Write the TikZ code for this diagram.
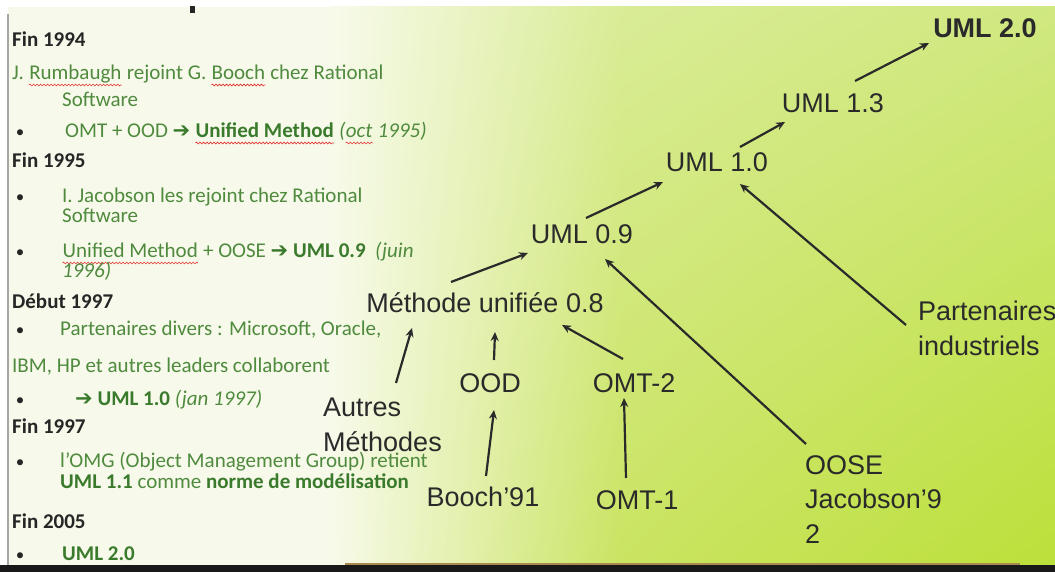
\documentclass[tikz,border=0pt]{standalone}
\usepackage{fontspec}
\setmainfont{Carlito}
\newfontfamily\diagfont{Liberation Sans}
\newfontfamily\symfont{DejaVu Sans}
\usetikzlibrary{arrows.meta,shadings,decorations.pathmorphing}

\definecolor{slidecream}{HTML}{F7FAEA}
\definecolor{greentop}{HTML}{D9EC96}
\definecolor{greenmid}{HTML}{CAE462}
\definecolor{greentopR}{HTML}{D0E880}
\definecolor{greenbot}{HTML}{BCE03A}
\definecolor{txtgreen}{HTML}{4F8A3E}
\definecolor{boldgreen}{HTML}{3A7A2C}
\definecolor{headgray}{HTML}{262626}
\definecolor{diagink}{HTML}{2A2A2A}
\definecolor{spellred}{HTML}{E03030}
\definecolor{bandbrown}{HTML}{A88A50}

% red wavy underline of the spell checker
\newcommand\spellerr[1]{\tikz[baseline=(sperr.base), x=1cm, y=1cm]{%
  \node[inner sep=0pt] (sperr) {#1};
  \draw[spellred, line width=0.6pt, decorate, decoration={snake, amplitude=0.9pt, segment length=3.5pt}]
    ([yshift=-5pt]sperr.base west) -- ([yshift=-5pt]sperr.base east);}}
\newcommand\garrow{{\symfont\bfseries\textcolor{boldgreen}{➔}}}

\begin{document}
\begin{tikzpicture}[x=1pt,y=-1pt,
  lefttxt/.style={anchor=base west, inner sep=0pt, text=txtgreen, font=\fontsize{21}{25}\selectfont},
  yearhead/.style={lefttxt, text=headgray, font=\fontsize{21}{25}\selectfont\bfseries},
  bulletmark/.style={anchor=base, inner sep=0pt, text=headgray, font=\fontsize{17}{20}\selectfont},
  diaglbl/.style={inner sep=0pt, text=diagink, font=\diagfont\fontsize{27}{34.5}\selectfont},
  diagbold/.style={diaglbl, font=\diagfont\bfseries\fontsize{27}{34.5}\selectfont},
  evol/.style={draw=diagink, line width=2.2pt, -{Stealth[length=9pt,width=8pt]}}]

\useasboundingbox (0,0) rectangle (1055,572);

% slide background
\fill[white] (0,0) rectangle (1055,572);
\fill[slidecream] (8,7) rectangle (331,565);
\shade[shading=bilinear interpolation, upper left=slidecream, lower left=slidecream,
  upper right=greentop, lower right=greenmid] (330,7) rectangle (621,565);
\shade[shading=bilinear interpolation, upper left=greentop, lower left=greenmid,
  upper right=greentopR, lower right=greenbot] (620,7) rectangle (1055,565);
\fill[black!90] (0,565) rectangle (1055,572);
\draw[line width=2pt, bandbrown] (345,563.5) -- (1020,563.5);
\draw[line width=2pt, gray!70] (8,14) -- (8,565);
\fill[headgray] (190,6) rectangle (195,13);

% historique
\node[yearhead] (fin94) at (12,47) {Fin 1994};
\node[lefttxt] (rumb) at (12,80) {J. \spellerr{Rumbaugh} rejoint G. \spellerr{Booch} chez Rational};
\node[lefttxt] (rumbsw) at (62,107) {Software};
\node[lefttxt] (omtood) at (65,138) {OMT + OOD \garrow\ {\bfseries\color{boldgreen}\spellerr{Unified Method}} {\itshape(\spellerr{oct} 1995)}};
\node[yearhead] (fin95) at (12,168) {Fin 1995};
\node[lefttxt] (jacob) at (62,203) {I. Jacobson les rejoint chez Rational};
\node[lefttxt] (jacobsw) at (62,223) {Software};
\node[lefttxt] (unimeth) at (62,258) {\spellerr{Unified Method} + OOSE \garrow\ {\bfseries\color{boldgreen}UML 0.9} \ {\itshape(juin}};
\node[lefttxt] (unimeth2) at (62,277) {\itshape 1996)};
\node[yearhead] (deb97) at (12,308) {Début 1997};
\node[lefttxt] (partdiv) at (60,335) {Partenaires divers : Microsoft, Oracle,};
\node[lefttxt] (ibmhp) at (12,372) {IBM, HP et autres leaders collaborent};
\node[lefttxt] (unizero) at (75,405) {\garrow\ {\bfseries\color{boldgreen}UML 1.0} {\itshape(jan 1997)}};
\node[yearhead] (fin97) at (12,433) {Fin 1997};
\node[lefttxt] (omg) at (60,467) {l’OMG (Object Management Group) retient};
\node[lefttxt] (omg2) at (60,488) {{\bfseries\color{boldgreen}UML 1.1} comme {\bfseries\color{boldgreen}norme de modélisation}};
\node[yearhead] (fin05) at (12,528) {Fin 2005};
\node[lefttxt] (umldeux) at (62,560) {\bfseries\color{boldgreen}UML 2.0};

\foreach \by [count=\bi] in {138,203,258,335,405,467,560}
  \node[bulletmark] (bul\bi) at (20,\by) {•};

% evolution de UML
\node[diagbold] (uml20) at (985,28) {UML 2.0};
\node[diaglbl] (uml13) at (833,103) {UML 1.3};
\node[diaglbl] (uml10) at (717,162) {UML 1.0};
\node[diaglbl] (uml09) at (582,234) {UML 0.9};
\node[diaglbl] (meth08) at (485,303) {Méthode unifiée 0.8};
\node[diaglbl, anchor=north west, align=left] (autres) at (323,398) {Autres\\Méthodes};
\node[diaglbl] (ood) at (490,383) {OOD};
\node[diaglbl] (omt2) at (634,383) {OMT-2};
\node[diaglbl] (booch) at (483,497) {Booch’91};
\node[diaglbl] (omt1) at (637,500) {OMT-1};
\node[diaglbl, anchor=north west, align=left] (oose) at (805,455) {OOSE\\Jacobson’9\\2};
\node[diaglbl, anchor=north west, align=left] (partind) at (918,301) {Partenaires\\industriels};

\draw[evol] ([shift={(-34,-21)}]meth08.center) -- ([shift={(-54,19)}]uml09.center);
\draw[evol] ([shift={(4,-16)}]uml09.center) -- ([shift={(-54,20)}]uml10.center);
\draw[evol] ([shift={(23,-15)}]uml10.center) -- ([shift={(-48,19)}]uml13.center);
\draw[evol] ([shift={(22,-22)}]uml13.center) -- ([shift={(-56,15)}]uml20.center);
\draw[evol] ([shift={(-12,24)}]partind.north west) -- ([shift={(23,22)}]uml10.center);
\draw[evol] ([shift={(1,-11)}]oose.north west) -- ([shift={(23,25)}]uml09.center);
\draw[evol] ([shift={(73,-15)}]autres.north west) -- ([shift={(-73,25)}]meth08.center);
\draw[evol] ([shift={(4,-23)}]ood.center) -- ([shift={(10,29)}]meth08.center);
\draw[evol] ([shift={(-11,-24)}]omt2.center) -- ([shift={(77,22)}]meth08.center);
\draw[evol] ([shift={(3,-21)}]booch.center) -- ([shift={(4,27)}]ood.center);
\draw[evol] ([shift={(-11,-22)}]omt1.center) -- ([shift={(-10,15)}]omt2.center);

\end{tikzpicture}
\end{document}
